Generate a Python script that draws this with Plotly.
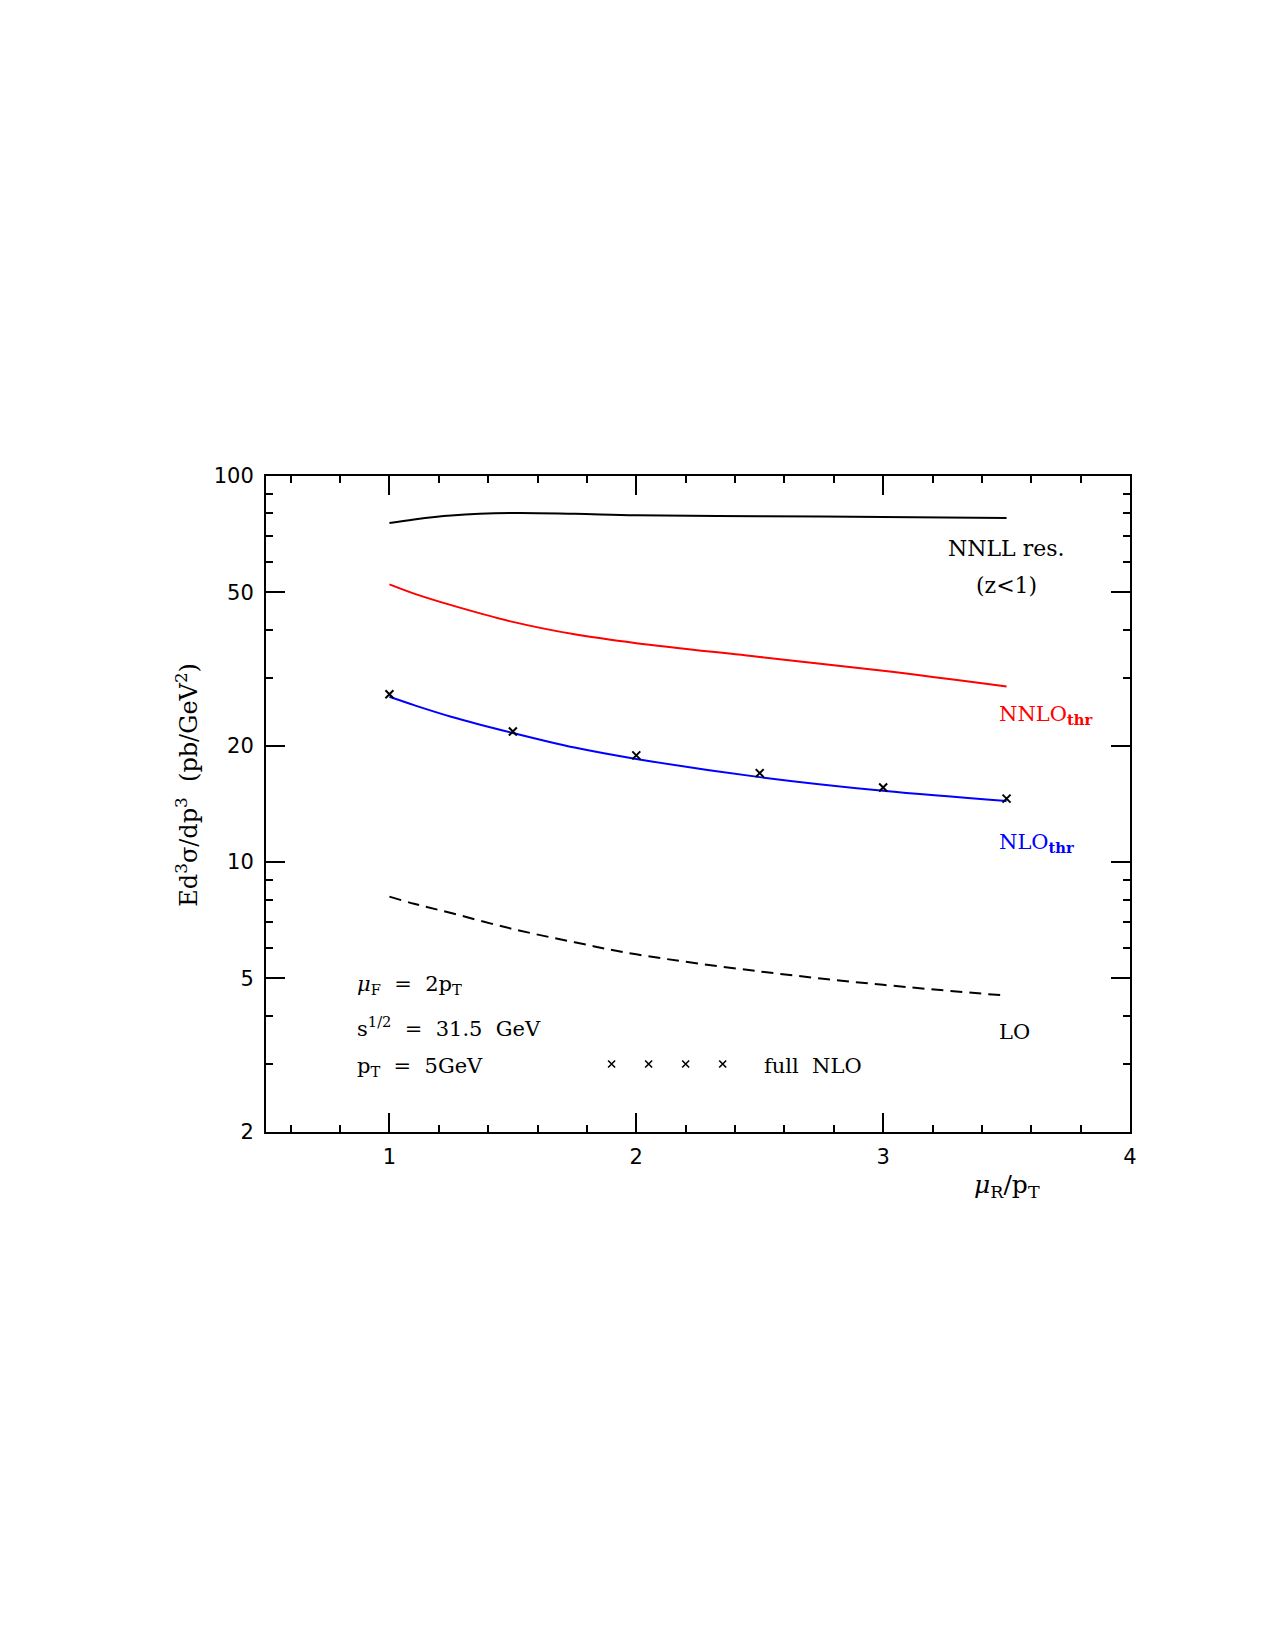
import math
import plotly.graph_objects as go

# ---- data ----
mu_r = [1.0, 1.1, 1.25, 1.5, 1.75, 2.0, 2.5, 3.0, 3.5]
nnll_res = [75.6, 77.2, 79.0, 80.2, 79.8, 79.1, 78.7, 78.3, 77.9]
nnlo_thr = [52.4, 49.6, 46.3, 41.9, 38.9, 36.9, 34.0, 31.3, 28.5]
nlo_thr = [26.8, 25.5, 23.8, 21.6, 19.8, 18.5, 16.6, 15.3, 14.4]
lo = [8.14, 7.80, 7.38, 6.71, 6.20, 5.77, 5.21, 4.81, 4.51]

mu_full = [1.0, 1.5, 2.0, 2.5, 3.0, 3.5]
full_nlo = [27.2, 21.8, 18.9, 17.0, 15.6, 14.6]

legend_x = [1.9, 2.05, 2.2, 2.35]
legend_y = [3.0, 3.0, 3.0, 3.0]

y_major = [2, 5, 10, 20, 50, 100]
y_minor = [3, 4, 6, 7, 8, 9, 30, 40, 60, 70, 80, 90]
x_major = [1, 2, 3, 4]

SERIF = "DejaVu Serif"
SANS = "DejaVu Sans"
NB = "\u00a0"

fig = go.Figure()
fig.add_trace(go.Scatter(x=mu_r, y=nnll_res, mode="lines", line=dict(color="black", width=2, shape="spline")))
fig.add_trace(go.Scatter(x=mu_r, y=nnlo_thr, mode="lines", line=dict(color="red", width=2, shape="spline")))
fig.add_trace(go.Scatter(x=mu_r, y=nlo_thr, mode="lines", line=dict(color="blue", width=2, shape="spline")))
fig.add_trace(go.Scatter(x=mu_r, y=lo, mode="lines", line=dict(color="black", width=2, dash="12px,7px", shape="spline")))
fig.add_trace(go.Scatter(x=mu_full, y=full_nlo, mode="markers",
                         marker=dict(symbol="x-thin", size=8, line=dict(color="black", width=2))))
fig.add_trace(go.Scatter(x=legend_x, y=legend_y, mode="markers",
                         marker=dict(symbol="x-thin", size=7, line=dict(color="black", width=1.6))))

ann = []
def add(text, x, y, size, color="black", family=SERIF, xanchor="left"):
    ann.append(dict(text=text, x=x, y=math.log10(y), xref="x", yref="y", showarrow=False,
                    font=dict(size=size, color=color, family=family),
                    xanchor=xanchor, yanchor="middle"))

add("NNLL" + NB + "res.", 3.5, 65.0, 22, xanchor="center")
add("(z<1)", 3.5, 52.1, 22, xanchor="center")
add("NNLO<sub><b>thr</b></sub>", 3.46, 24.0, 21, color="red")
add("NLO<sub><b>thr</b></sub>", 3.46, 11.2, 21, color="blue")
add("LO", 3.46, 3.64, 21)
add("full" + NB + NB + "NLO", 2.51, 2.97, 21)
add("<i>μ</i><sub>F</sub>" + NB + NB + "=" + NB + NB + "2p<sub>T</sub>", 0.86, 4.8, 21)
add("s<sup>1/2</sup>" + NB + NB + "=" + NB + NB + "31.5" + NB + NB + "GeV", 0.86, 3.73, 21)
add("p<sub>T</sub>" + NB + NB + "=" + NB + NB + "5GeV", 0.86, 2.95, 21)

ann.append(dict(text="Ed<sup>3</sup>σ/dp<sup>3</sup>" + NB + NB + "(pb/GeV<sup>2</sup>)",
                x=-0.091, y=0.53, xref="paper", yref="paper", showarrow=False,
                textangle=-90, font=dict(size=24, family=SERIF, color="black"),
                xanchor="center", yanchor="middle"))
ann.append(dict(text="<i>μ</i><sub>R</sub>/p<sub>T</sub>",
                x=0.858, y=-0.082, xref="paper", yref="paper", showarrow=False,
                font=dict(size=25, family=SERIF, color="black"),
                xanchor="center", yanchor="middle"))

fig.update_layout(
    width=1275, height=1650,
    margin=dict(l=266, r=145, t=476, b=518),
    paper_bgcolor="white", plot_bgcolor="white",
    showlegend=False,
    annotations=ann,
    xaxis=dict(range=[0.5, 4.0], tickmode="array", tickvals=x_major,
               ticks="inside", ticklen=19, tickwidth=2, tickcolor="black",
               showline=True, linewidth=2, linecolor="black", mirror="ticks",
               showgrid=False, zeroline=False,
               tickfont=dict(size=21, family=SANS, color="black"),
               ticklabelstandoff=5,
               minor=dict(tickmode="linear", tick0=0.6, dtick=0.2, ticks="inside",
                          ticklen=7, tickwidth=2, tickcolor="black", showgrid=False)),
    yaxis=dict(type="log", range=[math.log10(2), 2.0], tickmode="array",
               tickvals=y_major, ticktext=[str(v) for v in y_major],
               ticks="inside", ticklen=19, tickwidth=2, tickcolor="black",
               showline=True, linewidth=2, linecolor="black", mirror="ticks",
               showgrid=False, zeroline=False,
               tickfont=dict(size=21, family=SANS, color="black"),
               ticklabelstandoff=6,
               minor=dict(tickmode="array", tickvals=y_minor, ticks="inside",
                          ticklen=7, tickwidth=2, tickcolor="black", showgrid=False)),
)

fig.write_html("out.html")
